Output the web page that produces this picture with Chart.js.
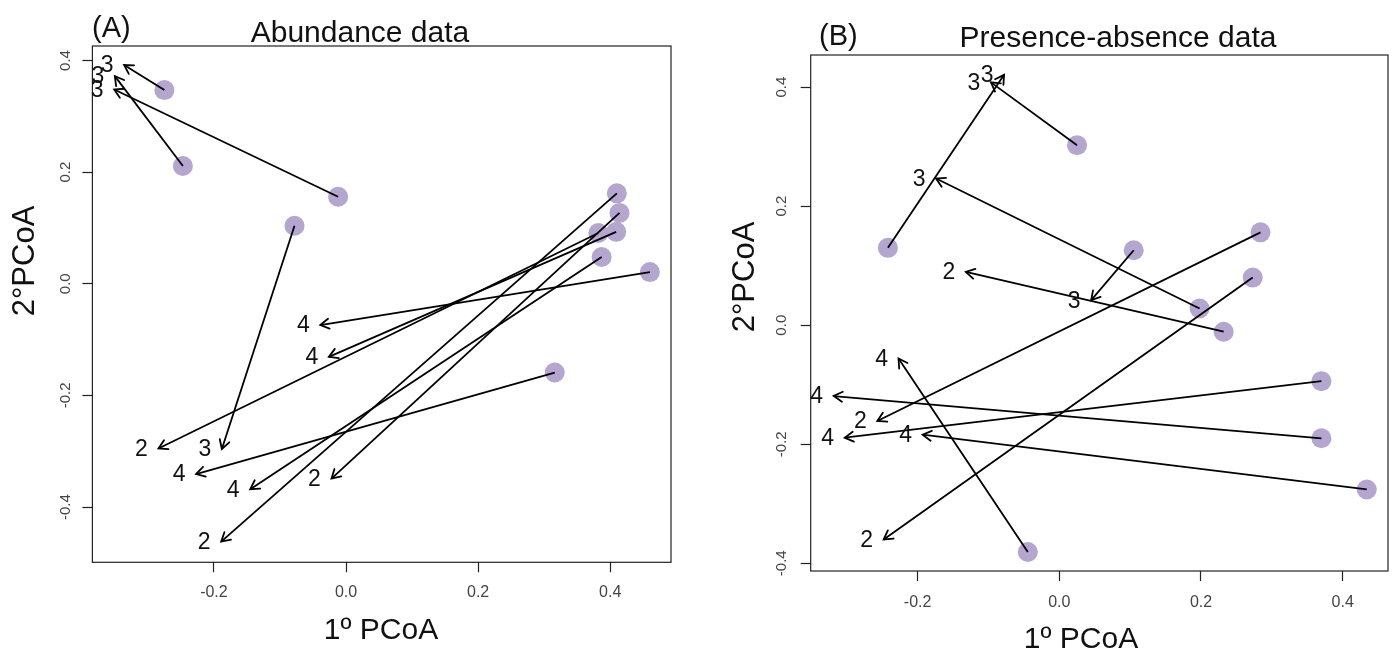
<!DOCTYPE html>
<html>
<head>
<meta charset="utf-8">
<title>PCoA trajectories</title>
<script src="https://cdn.jsdelivr.net/npm/chart.js@4.4.1/dist/chart.umd.min.js"></script>
<style>
  html, body { margin: 0; padding: 0; background: #fff; }
  #wrap { position: relative; width: 1398px; height: 656px; overflow: hidden; }
  canvas { position: absolute; top: 0; }
  #chartA { left: 0; }
  #chartB { left: 700px; }
</style>
</head>
<body>
<div id="wrap">
  <canvas id="chartA" width="700" height="656"></canvas>
  <canvas id="chartB" width="698" height="656"></canvas>
</div>
<script>
// (A) abundance data: start points (circles) and arrow ends (labelled)
const abundFromX = [-0.275, -0.247, -0.012, -0.078, 0.410, 0.414, 0.409, 0.382, 0.387, 0.460, 0.316];
const abundFromY = [0.347, 0.211, 0.156, 0.104, 0.162, 0.127, 0.093, 0.091, 0.048, 0.021, -0.159];
const abundToX = [-0.336, -0.350, -0.351, -0.188, -0.189, -0.022, -0.026, -0.284, -0.145, -0.039, -0.227];
const abundToY = [0.392, 0.372, 0.348, -0.296, -0.462, -0.349, -0.131, -0.295, -0.368, -0.074, -0.341];
const abundLabels = ['3', '3', '3', '3', '2', '2', '4', '2', '4', '4', '4'];

// (B) presence-absence data
const presFromX = [-0.242, 0.025, 0.198, 0.232, 0.105, -0.0445, 0.370, 0.284, 0.370, 0.434, 0.273];
const presFromY = [0.130, 0.3025, 0.028, -0.011, 0.126, -0.381, -0.190, 0.156, -0.094, -0.276, 0.080];
const presToX = [-0.078, -0.0965, -0.174, -0.132, 0.045, -0.227, -0.3185, -0.257, -0.303, -0.193, -0.248];
const presToY = [0.4207, 0.408, 0.2465, 0.0897, 0.042, -0.056, -0.119, -0.161, -0.189, -0.184, -0.360];
const presLabels = ['3', '3', '3', '2', '3', '4', '4', '2', '4', '4', '2'];

// axis limits and tick labels
const abundXRange = [-0.384, 0.492];
const abundYRange = [-0.499, 0.426];
const presXRange = [-0.351, 0.464];
const presYRange = [-0.413, 0.454];
const xTickValues = [-0.2, 0.0, 0.2, 0.4];
const yTickValues = [-0.4, -0.2, 0.0, 0.2, 0.4];

const FONT = '"Liberation Sans", Arial, Helvetica, sans-serif';
const POINT_COLOR = 'rgb(180,166,206)';

function fmt(v) {
  return Math.abs(v) < 1e-9 ? '0.0' : v.toFixed(1);
}

function makePanel(id, d, lay) {
  const overlay = {
    id: 'overlay',
    afterDatasetsDraw(chart) {
      const ctx = chart.ctx;
      const a = chart.chartArea;
      const xs = chart.scales.x, ys = chart.scales.y;
      ctx.save();
      // plot box
      ctx.strokeStyle = '#222';
      ctx.lineWidth = 1.2;
      ctx.strokeRect(a.left, a.top, a.right - a.left, a.bottom - a.top);
      // arrow heads
      ctx.strokeStyle = '#000';
      ctx.lineWidth = 1.8;
      ctx.lineCap = 'round';
      for (let i = 0; i < d.toX.length; i++) {
        const x0 = xs.getPixelForValue(d.fromX[i]), y0 = ys.getPixelForValue(d.fromY[i]);
        const x1 = xs.getPixelForValue(d.toX[i]), y1 = ys.getPixelForValue(d.toY[i]);
        const ang = Math.atan2(y1 - y0, x1 - x0);
        const len = 10;
        ctx.beginPath();
        ctx.moveTo(x1 - len * Math.cos(ang - Math.PI / 6), y1 - len * Math.sin(ang - Math.PI / 6));
        ctx.lineTo(x1, y1);
        ctx.lineTo(x1 - len * Math.cos(ang + Math.PI / 6), y1 - len * Math.sin(ang + Math.PI / 6));
        ctx.stroke();
      }
      // group labels at the arrow ends
      ctx.fillStyle = '#111';
      ctx.font = '23px ' + FONT;
      ctx.textAlign = 'center';
      ctx.textBaseline = 'middle';
      for (let i = 0; i < d.toX.length; i++) {
        const x1 = xs.getPixelForValue(d.toX[i]), y1 = ys.getPixelForValue(d.toY[i]);
        ctx.fillText(d.labels[i], x1 - 17, y1 + 1);
      }
      ctx.restore();
    },
    afterDraw(chart) {
      const ctx = chart.ctx;
      ctx.save();
      ctx.fillStyle = '#111';
      ctx.textBaseline = 'alphabetic';
      ctx.font = '29px ' + FONT;
      ctx.textAlign = 'left';
      ctx.fillText(lay.tag, lay.tagX, lay.tagY);
      ctx.font = '30px ' + FONT;
      ctx.textAlign = 'center';
      ctx.fillText(lay.title, lay.titleX, lay.titleY);
      ctx.fillText('1º PCoA', lay.xTitleX, lay.xTitleY);
      ctx.translate(lay.yTitleX, lay.yTitleY);
      ctx.rotate(-Math.PI / 2);
      ctx.font = '31px ' + FONT;
      ctx.textBaseline = 'middle';
      ctx.fillText('2°PCoA', 0, 0);
      ctx.restore();
    }
  };

  const segments = d.fromX.map((fx, i) => ({
    data: [{x: fx, y: d.fromY[i]}, {x: d.toX[i], y: d.toY[i]}],
    showLine: true,
    borderColor: '#000',
    borderWidth: 1.8,
    pointRadius: 0,
    order: 1
  }));

  const tickGrid = {
    display: true,
    drawOnChartArea: false,
    drawTicks: true,
    tickLength: 10,
    tickColor: '#222',
    tickWidth: 1.2
  };

  return new Chart(document.getElementById(id), {
    type: 'scatter',
    data: {
      datasets: [{
        data: d.fromX.map((fx, i) => ({x: fx, y: d.fromY[i]})),
        backgroundColor: POINT_COLOR,
        borderWidth: 0,
        pointRadius: 10,
        order: 2
      }].concat(segments)
    },
    options: {
      responsive: false,
      animation: false,
      devicePixelRatio: 1,
      layout: {padding: {left: 0, top: lay.top, right: lay.right, bottom: 0}},
      plugins: {legend: {display: false}, tooltip: {enabled: false}},
      scales: {
        x: {
          type: 'linear',
          min: d.xRange[0],
          max: d.xRange[1],
          grid: tickGrid,
          border: {display: false},
          afterBuildTicks: s => { s.ticks = xTickValues.map(v => ({value: v})); },
          afterFit: s => { s.height = lay.xHeight; },
          ticks: {
            autoSkip: false,
            maxRotation: 0,
            padding: lay.xPad,
            color: '#444',
            font: {family: FONT, size: 16},
            callback: v => fmt(v)
          }
        },
        y: {
          type: 'linear',
          min: d.yRange[0],
          max: d.yRange[1],
          grid: tickGrid,
          border: {display: false},
          afterBuildTicks: s => { s.ticks = yTickValues.map(v => ({value: v})); },
          afterFit: s => { s.width = lay.yWidth; },
          ticks: {
            autoSkip: false,
            minRotation: 90,
            maxRotation: 90,
            crossAlign: 'center',
            padding: lay.yPad,
            color: '#444',
            font: {family: FONT, size: 15},
            callback: v => fmt(v)
          }
        }
      }
    },
    plugins: [overlay]
  });
}

makePanel('chartA', {
  fromX: abundFromX, fromY: abundFromY, toX: abundToX, toY: abundToY,
  labels: abundLabels, xRange: abundXRange, yRange: abundYRange
}, {
  top: 46, right: 29, yWidth: 92.4, xHeight: 93.7, xPad: 11, yPad: 4,
  tag: '(A)', tagX: 92, tagY: 37,
  title: 'Abundance data', titleX: 360, titleY: 42,
  xTitleX: 381, xTitleY: 639,
  yTitleX: 25, yTitleY: 261
});

makePanel('chartB', {
  fromX: presFromX, fromY: presFromY, toX: presToX, toY: presToY,
  labels: presLabels, xRange: presXRange, yRange: presYRange
}, {
  top: 55, right: 7, yWidth: 110.7, xHeight: 85, xPad: 12, yPad: 6,
  tag: '(B)', tagX: 119, tagY: 45,
  title: 'Presence-absence data', titleX: 418, titleY: 47,
  xTitleX: 381, xTitleY: 648,
  yTitleX: 45, yTitleY: 277
});
</script>
</body>
</html>
